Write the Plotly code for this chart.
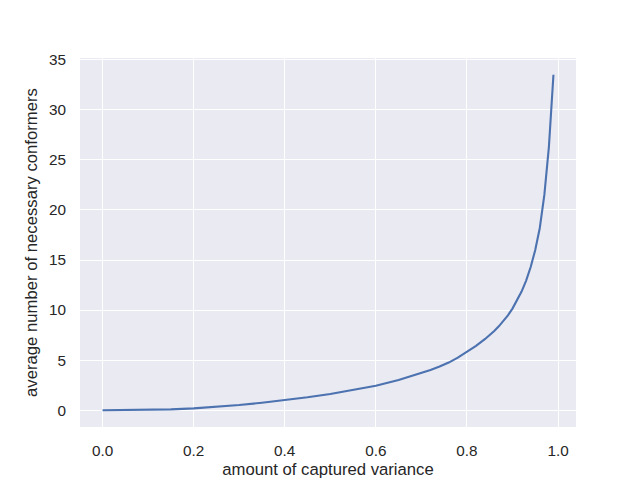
import plotly.graph_objects as go

# values
captured_variance = [0.0, 0.05, 0.1, 0.15, 0.2, 0.25, 0.3, 0.35, 0.4, 0.45, 0.5,
                     0.55, 0.6, 0.65, 0.7, 0.72, 0.74, 0.76, 0.78, 0.8, 0.82, 0.84,
                     0.85, 0.86, 0.87, 0.88, 0.89, 0.9, 0.91, 0.92, 0.93, 0.94,
                     0.95, 0.96, 0.97, 0.98, 0.99]
n_conformers = [0.0, 0.01, 0.04, 0.09, 0.18, 0.32, 0.52, 0.75, 1.0, 1.29, 1.62,
                2.0, 2.45, 3.02, 3.72, 4.02, 4.36, 4.76, 5.25, 5.8, 6.42, 7.12,
                7.5, 7.92, 8.38, 8.9, 9.48, 10.15, 10.93, 11.85, 12.95, 14.3,
                16.0, 18.2, 21.5, 26.3, 33.5]

x_ticks = [0.0, 0.2, 0.4, 0.6, 0.8, 1.0]
y_ticks = [0, 5, 10, 15, 20, 25, 30, 35]

FONT = "Liberation Sans, Arial, DejaVu Sans, sans-serif"
TEXT = "#262626"

fig = go.Figure()
fig.add_trace(go.Scatter(x=captured_variance, y=n_conformers, mode="lines",
                         line=dict(color="#4C72B0", width=2.1), showlegend=False))

# matplotlib style 5% margins around the data
xmin, xmax = min(captured_variance), max(captured_variance)
ymin, ymax = min(n_conformers), max(n_conformers)
xpad = (xmax - xmin) * 0.05
ypad = (ymax - ymin) * 0.05

axis_common = dict(showgrid=True, gridcolor="white", gridwidth=1.4, zeroline=False,
                   showline=False, ticks="", ticklabelstandoff=13,
                   tickfont=dict(family=FONT, size=15.3, color=TEXT))

fig.update_xaxes(range=[xmin - xpad, xmax + xpad], tickvals=x_ticks,
                 ticktext=[f"{v:.1f}" for v in x_ticks],
                 title=dict(text="amount of captured variance", standoff=5,
                            font=dict(family=FONT, size=16.7, color=TEXT)),
                 **axis_common)
fig.update_yaxes(range=[ymin - ypad, ymax + ypad], tickvals=y_ticks,
                 title=dict(text="average number of necessary conformers", standoff=7,
                            font=dict(family=FONT, size=16.7, color=TEXT)),
                 **axis_common)

fig.update_layout(width=640, height=480,
                  margin=dict(l=80, r=64, t=58, b=53, autoexpand=False),
                  paper_bgcolor="white", plot_bgcolor="#EAEAF2")

# drop the default page margin so the figure sits at the window corner
fig.write_html("out.html", config={"displayModeBar": False},
               post_script="document.body.style.margin='0';")
